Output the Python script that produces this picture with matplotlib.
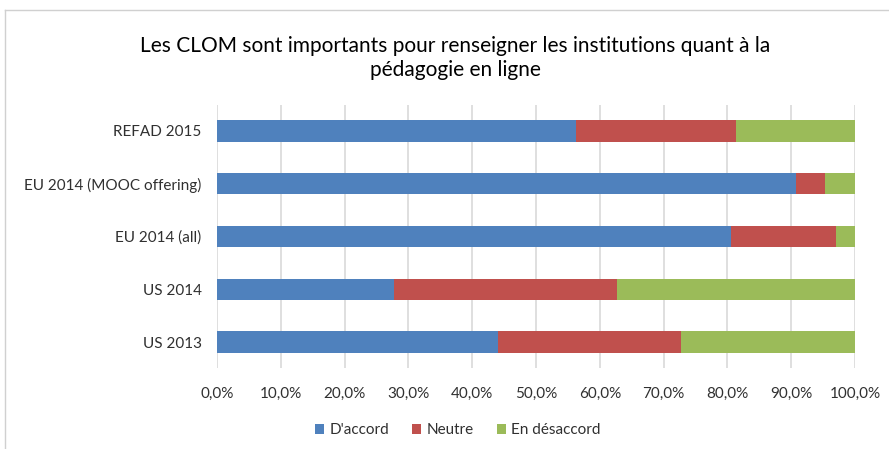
import matplotlib.pyplot as plt
from matplotlib.lines import Line2D
from matplotlib.ticker import FuncFormatter
import numpy as np

# Survey categories (bottom to top as drawn)
categories = ["US 2013", "US 2014", "EU 2014 (all)", "EU 2014 (MOOC offering)", "REFAD 2015"]
accord = [44.0, 27.8, 80.5, 90.8, 56.2]
neutre = [28.8, 34.9, 16.5, 4.5, 25.1]
desaccord = [27.2, 37.3, 3.0, 4.7, 18.7]

series_labels = ["D'accord", "Neutre", "En désaccord"]
colors = ["#4F81BD", "#C0504D", "#9BBB59"]

plt.rcParams['font.family'] = ['Lato', 'DejaVu Sans']

fig = plt.figure(figsize=(8.89, 4.49), dpi=100)
ax = fig.add_axes([0.2441, 0.1795, 0.7177, 0.5875])

y = np.arange(len(categories))
left = np.zeros(len(categories))
for vals, lab, col in zip([accord, neutre, desaccord], series_labels, colors):
    ax.barh(y, vals, left=left, height=0.4, color=col, label=lab, zorder=3)
    left += np.array(vals)

ax.set_xlim(0, 100)
ax.set_ylim(-0.5, len(categories) - 0.5)
ax.set_xticks(np.arange(0, 101, 10))
ax.xaxis.set_major_formatter(FuncFormatter(lambda v, p: f"{v:.1f}%".replace('.', ',')))
ax.set_yticks(y)
ax.set_yticklabels(categories)
ax.tick_params(axis='both', length=0, labelsize=11, colors='#303030')
ax.tick_params(axis='x', pad=13)
ax.tick_params(axis='y', pad=11)
ax.grid(True, axis='x', color='#d9d9d9', linewidth=1.2, zorder=0)
for s in ax.spines.values():
    s.set_visible(False)

fig.text(0.512, 0.871, "Les CLOM sont importants pour renseigner les institutions quant à la\npédagogie en ligne",
         ha='center', va='center', fontsize=15, color='#000000', linespacing=1.3)

ax.legend(loc='center', bbox_to_anchor=(0.515, 0.042), bbox_transform=fig.transFigure,
          ncol=3, frameon=False, fontsize=11, handlelength=0.6, handleheight=0.6,
          handletextpad=0.35, columnspacing=1.5, labelcolor='#303030')

# light frame around chart area
fig.add_artist(Line2D([5/889, 5/889], [0, 1 - 10/449], color='#d0d0d0', linewidth=1, transform=fig.transFigure))
fig.add_artist(Line2D([5/889, 1], [1 - 10/449, 1 - 10/449], color='#d0d0d0', linewidth=1, transform=fig.transFigure))

fig.savefig("out.png", dpi=100)
